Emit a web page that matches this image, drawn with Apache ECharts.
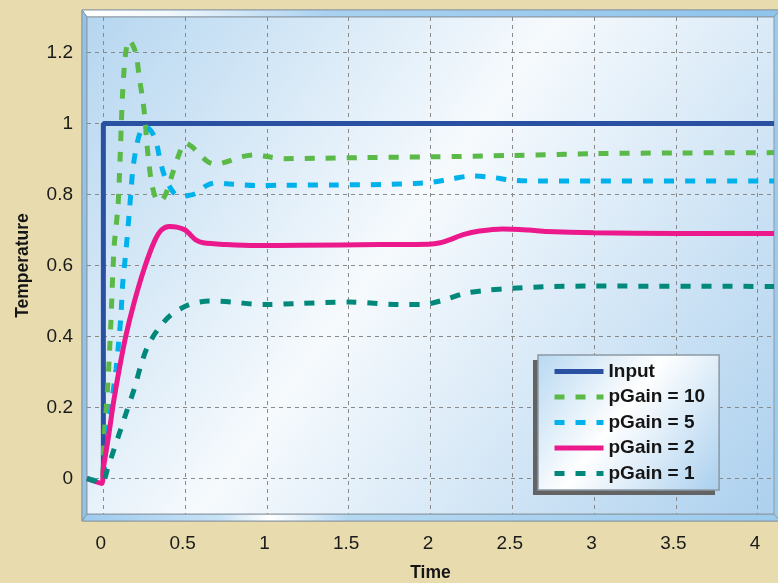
<!DOCTYPE html>
<html>
<head>
<meta charset="utf-8">
<script src="https://cdn.jsdelivr.net/npm/echarts@6/dist/echarts.min.js"></script>
<style>
html,body{margin:0;padding:0;background:#E8DCAF;}
#chart{width:778px;height:583px;}
</style>
</head>
<body>
<div id="chart"></div>
<script>
// ---- data (time, temperature) ----
var seriesNames = ['Input', 'pGain = 10', 'pGain = 5', 'pGain = 2', 'pGain = 1'];
var xTicks = [0, 0.5, 1, 1.5, 2, 2.5, 3, 3.5, 4];
var yTicks = [0, 0.2, 0.4, 0.6, 0.8, 1, 1.2];

var inputData = [[0, 0], [0, 1], [4.1, 1]];

var gain10Data = [[-0.1,0],[-0.01,-0.01],[0.0,0.07],[0.008,0.14],[0.018,0.2],[0.028,0.27],[0.038,0.36],[0.046,0.44],
  [0.052,0.51],[0.058,0.58],[0.067,0.66],[0.08,0.72],[0.09,0.77],[0.097,0.84],[0.104,0.92],[0.11,1.0],[0.117,1.08],
  [0.128,1.16],[0.142,1.215],[0.157,1.235],[0.175,1.225],[0.2,1.196],[0.22,1.128],[0.24,1.07],[0.255,1.01],[0.265,0.95],
  [0.278,0.89],[0.295,0.832],[0.32,0.79],[0.345,0.78],[0.38,0.80],[0.42,0.855],[0.46,0.91],[0.5,0.945],[0.54,0.935],
  [0.59,0.912],[0.64,0.892],[0.69,0.885],[0.76,0.893],[0.84,0.906],[0.93,0.912],[1.0,0.907],[1.1,0.901],[1.3,0.902],
  [1.6,0.904],[2.0,0.906],[2.5,0.91],[3.0,0.915],[3.5,0.917],[4.1,0.918]];

var gain5Data = [[-0.1,0],[-0.01,-0.01],[0.01,0.06],[0.03,0.14],[0.057,0.236],[0.078,0.31],[0.094,0.386],[0.108,0.462],
  [0.118,0.547],[0.139,0.645],[0.159,0.753],[0.17,0.815],[0.18,0.87],[0.2,0.93],[0.225,0.975],[0.25,0.99],[0.28,0.985],
  [0.31,0.965],[0.33,0.935],[0.345,0.9],[0.365,0.865],[0.39,0.835],[0.43,0.805],[0.465,0.795],[0.52,0.797],[0.575,0.805],
  [0.63,0.825],[0.69,0.833],[0.76,0.83],[0.82,0.828],[0.93,0.825],[1.1,0.826],[1.4,0.827],[1.71,0.828],[1.9,0.831],
  [2.0,0.834],[2.12,0.843],[2.25,0.852],[2.38,0.848],[2.5,0.84],[2.7,0.838],[3.0,0.838],[4.1,0.838]];

var gain2Data = [[-0.1,0],[-0.01,-0.014],[0.0,0.028],[0.033,0.123],[0.063,0.217],[0.098,0.31],[0.139,0.405],[0.19,0.499],
  [0.251,0.593],[0.312,0.668],[0.355,0.70],[0.404,0.71],[0.45,0.708],[0.5,0.7],[0.535,0.685],[0.565,0.672],[0.61,0.664],
  [0.75,0.659],[0.934,0.656],[1.2,0.657],[1.69,0.659],[1.99,0.66],[2.06,0.664],[2.12,0.673],[2.2,0.687],[2.3,0.697],
  [2.44,0.703],[2.6,0.7],[2.71,0.696],[3.0,0.692],[3.5,0.69],[4.1,0.69]];

var gain1Data = [[-0.1,0],[-0.01,-0.012],[0.026,0.028],[0.067,0.085],[0.108,0.141],[0.149,0.198],[0.19,0.254],[0.23,0.32],
  [0.271,0.372],[0.332,0.419],[0.414,0.461],[0.526,0.49],[0.648,0.5],[0.79,0.497],[0.914,0.491],[1.0,0.49],[1.2,0.493],
  [1.5,0.497],[1.81,0.49],[1.95,0.49],[2.09,0.504],[2.21,0.522],[2.34,0.53],[2.5,0.536],[2.75,0.541],[3.0,0.542],[4.1,0.541]];

var colors = ['#2A51A1', '#5BB947', '#00B2EB', '#EC198C', '#00897B'];

var FONT = 'Liberation Sans, Arial, sans-serif';
var chart = echarts.init(document.getElementById('chart'), null, {renderer: 'canvas'});

function diag(c0, c1, c2) {
  return new echarts.graphic.LinearGradient(0, 0, 1, 1, [
    {offset: 0, color: c0}, {offset: 0.45, color: c1}, {offset: 1, color: c2}
  ]);
}

var frameStroke = '#8C99A4';
var option = {
  backgroundColor: '#E8DCAF',
  animation: false,
  color: colors,
  grid: {left: 87, top: 17, width: 687, height: 497, show: false, containLabel: false, outerBoundsMode: 'none'},
  graphic: [
    {type: 'rect', z: -10, shape: {x: 82, y: 10, width: 700, height: 511},
      style: {fill: '#9DCBEE', stroke: frameStroke, lineWidth: 1}},
    {type: 'polygon', z: -9, shape: {points: [[82,10],[780,10],[774,17],[87,17]]},
      style: {fill: new echarts.graphic.LinearGradient(0, 0, 1, 0, [
        {offset: 0, color: '#ffffff'}, {offset: 0.12, color: '#f2f8fd'}, {offset: 0.35, color: '#a9d2f1'}, {offset: 1, color: '#8ec4ec'}]),
        stroke: frameStroke, lineWidth: 1}},
    {type: 'polygon', z: -9, shape: {points: [[82,521],[780,521],[774,514],[87,514]]},
      style: {fill: new echarts.graphic.LinearGradient(0, 0, 1, 0, [
        {offset: 0, color: '#9ccbee'}, {offset: 0.2, color: '#c9e3f6'}, {offset: 0.27, color: '#ffffff'}, {offset: 0.38, color: '#b5d8f2'}, {offset: 1, color: '#9ccbee'}]),
        stroke: frameStroke, lineWidth: 1}},
    {type: 'polygon', z: -9, shape: {points: [[82,10],[87,17],[87,514],[82,521]]},
      style: {fill: '#8FC3EA', stroke: frameStroke, lineWidth: 1}},
    {type: 'rect', z: -8, shape: {x: 87, y: 17, width: 687, height: 497},
      style: {fill: diag('#B5D6F0', '#F6FAFD', '#ACD0EE'), stroke: frameStroke, lineWidth: 1}},
    // legend drop shadow
    {type: 'rect', z: 3, shape: {x: 533, y: 360, width: 182, height: 135},
      style: {fill: '#636363'}}
  ],
  legend: {
    data: seriesNames,
    orient: 'vertical',
    left: 538, top: 355,
    padding: [7, 14, 7, 14],
    itemWidth: 49, itemHeight: 14, itemGap: 6.5, itemTextGap: 9,
    backgroundColor: diag('#B7D8F1', '#FFFFFF', '#A9CFEE'),
    borderColor: '#8C99A4', borderWidth: 1.5,
    itemStyle: {opacity: 0},
    lineStyle: {width: 5},
    textStyle: {fontFamily: FONT, fontSize: 19, fontWeight: 'bold', color: '#151515'}
  },
  xAxis: {
    type: 'value', min: -0.1, max: 4.1,
    name: 'Time', nameLocation: 'middle', nameGap: 50,
    nameTextStyle: {fontFamily: FONT, fontSize: 17.5, fontWeight: 'bold', color: '#151515'},
    axisLine: {show: false}, axisTick: {show: false, customValues: xTicks},
    axisLabel: {customValues: xTicks, margin: 20, padding: [0, 5, 0, 0], fontFamily: FONT, fontSize: 19, color: '#1a1a1a'},
    splitLine: {show: true, lineStyle: {color: '#8a8a8a', width: 1, type: [4, 4]}}
  },
  yAxis: {
    type: 'value', min: -0.1, max: 1.3,
    name: 'Temperature', nameLocation: 'middle', nameGap: 55, nameRotate: 90,
    nameTextStyle: {fontFamily: FONT, fontSize: 17.5, fontWeight: 'bold', color: '#151515'},
    axisLine: {show: false}, axisTick: {show: false, customValues: yTicks},
    axisLabel: {customValues: yTicks, margin: 14, fontFamily: FONT, fontSize: 19, color: '#1a1a1a'},
    splitLine: {show: true, lineStyle: {color: '#8a8a8a', width: 1, type: [4, 4]}}
  },
  series: [
    {name: seriesNames[0], type: 'line', data: inputData, symbol: 'none', smooth: false,
      lineStyle: {width: 5, color: colors[0]}},
    {name: seriesNames[1], type: 'line', data: gain10Data, symbol: 'none', smooth: 0.3,
      lineStyle: {width: 5, color: colors[1], type: [10, 11], cap: 'butt'}},
    {name: seriesNames[2], type: 'line', data: gain5Data, symbol: 'none', smooth: 0.3,
      lineStyle: {width: 5, color: colors[2], type: [10, 11], cap: 'butt'}},
    {name: seriesNames[3], type: 'line', data: gain2Data, symbol: 'none', smooth: 0.3,
      lineStyle: {width: 5, color: colors[3]}},
    {name: seriesNames[4], type: 'line', data: gain1Data, symbol: 'none', smooth: 0.3,
      lineStyle: {width: 5, color: colors[4], type: [10, 11], cap: 'butt'}}
  ]
};
chart.setOption(option);
</script>
</body>
</html>
